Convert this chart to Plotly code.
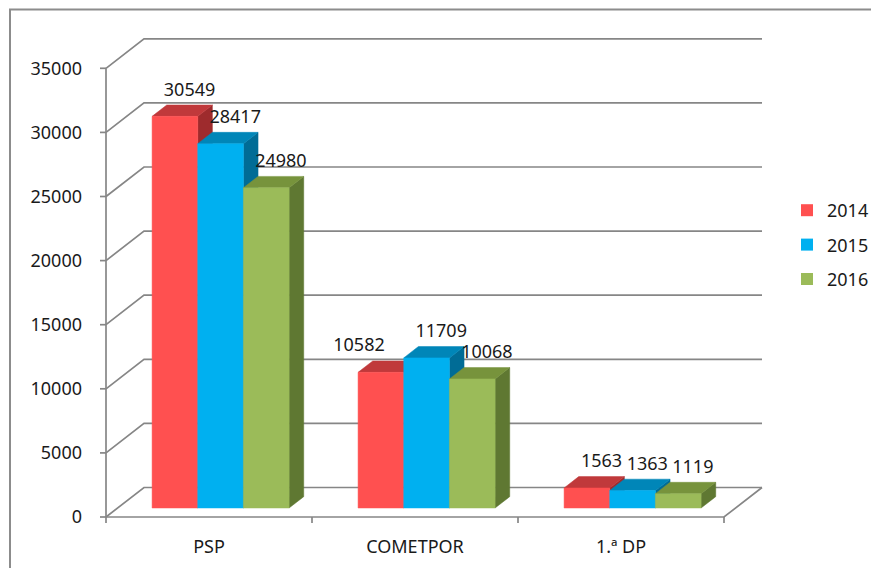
import plotly.graph_objects as go

# ---------------- data ----------------
categories = ["PSP", "COMETPOR", "1.ª DP"]
series_names = ["2014", "2015", "2016"]
values_2014 = [30549, 10582, 1563]
values_2015 = [28417, 11709, 1363]
values_2016 = [24980, 10068, 1119]
y_ticks = [0, 5000, 10000, 15000, 20000, 25000, 30000, 35000]

series_values = [values_2014, values_2015, values_2016]
front_colors = ["#FF5050", "#00B0F0", "#9BBB59"]
top_colors = ["#C0393B", "#0086B8", "#77933C"]
side_colors = ["#9E2B2D", "#006C96", "#5F7832"]

# ---------------- geometry (page pixel targets -> data units) ----------------
W_FIG, H_FIG = 879, 568
OFF = 8                        # page body margin offset
PX_CAT = 206.0                 # pixels per category
X0_PX = 106.0                  # page pixel of x = 0 (front axis)
Y0_PX = 517.0                  # page pixel of value 0 on front plane
K = 448.7 / 35000.0            # pixels per value unit

PL, PR, PT, PB = 98, 775, 20, 533   # plot area in page pixels
x_range = [(PL - X0_PX) / PX_CAT, (PR - X0_PX) / PX_CAT]
y_range = [(Y0_PX - PB) / K, (Y0_PX - PT) / K]

DXW = 38.0 / PX_CAT            # depth of the box in x units
DYW = 29.5 / K                 # depth of the box in value units
F1, F2 = 0.305, 0.69           # front / back of bars as fraction of depth
GROUP = 0.665
BW = GROUP / 3.0
ddx = (F2 - F1) * DXW
ddy = (F2 - F1) * DYW

GRID = "#868686"
FONT = "Noto Sans"
FS = 18
TXT = "#1a1a1a"
n_cat = len(categories)

fig = go.Figure()

# ---------------- walls, gridlines, floor ----------------
gx, gy = [], []
for v in y_ticks:
    gx += [0, DXW, n_cat + DXW, None]
    gy += [v, v + DYW, v + DYW, None]
gx += [0, n_cat, n_cat + DXW, None]
gy += [0, 0, DYW, None]
gx += [0, 0, None]
gy += [0, y_ticks[-1], None]
for v in y_ticks:
    gx += [-6.0 / PX_CAT, 0, None]
    gy += [v, v, None]
for i in range(n_cat + 1):
    gx += [i, i, None]
    gy += [0, -6.0 / K, None]
fig.add_trace(go.Scatter(x=gx, y=gy, mode="lines",
                         line=dict(color=GRID, width=1.7),
                         hoverinfo="skip", showlegend=False))

# ---------------- 3D bars ----------------
lab_x, lab_y, lab_t = [], [], []
for i in range(n_cat):
    for j in range(len(series_values)):
        v = series_values[j][i]
        xl = i + 0.5 - GROUP / 2 + j * BW + F1 * DXW
        xr = xl + BW
        yb = F1 * DYW
        yt = v + yb
        fig.add_trace(go.Scatter(
            x=[xr, xr, xr + ddx, xr + ddx, xr], y=[yb, yt, yt + ddy, yb + ddy, yb],
            fill="toself", fillcolor=side_colors[j], mode="lines",
            line=dict(color=side_colors[j], width=0.5),
            hoverinfo="skip", showlegend=False))
        fig.add_trace(go.Scatter(
            x=[xl, xr, xr + ddx, xl + ddx, xl], y=[yt, yt, yt + ddy, yt + ddy, yt],
            fill="toself", fillcolor=top_colors[j], mode="lines",
            line=dict(color=top_colors[j], width=0.5),
            hoverinfo="skip", showlegend=False))
        fig.add_trace(go.Scatter(
            x=[xl, xr, xr, xl, xl], y=[yb, yb, yt, yt, yb],
            fill="toself", fillcolor=front_colors[j], mode="lines",
            line=dict(color=front_colors[j], width=0.5),
            name=series_names[j], text=[str(v)] * 5,
            hovertemplate="%{text}<extra>" + categories[i] + "</extra>",
            showlegend=False))
        cx = (xl + xr) / 2 + ddx
        nxt = series_values[j + 1][i] if j + 1 < len(series_values) else None
        if nxt is not None and nxt > v:
            cx -= 0.8 * BW
        lab_x.append(cx)
        lab_y.append(yt + ddy + 14.0 / K)
        lab_t.append(str(v))

fig.add_trace(go.Scatter(x=lab_x, y=lab_y, text=lab_t, mode="text",
                         textposition="middle center",
                         textfont=dict(family=FONT, size=FS, color=TXT),
                         hoverinfo="skip", showlegend=False))

# ---------------- legend entries ----------------
for j, nm in enumerate(series_names):
    fig.add_trace(go.Scatter(x=[None], y=[None], mode="markers", name=nm,
                             legendgroup=nm,
                             marker=dict(symbol="square", size=12, color=front_colors[j])))

# ---------------- frame ----------------
pw, ph = PR - PL, PB - PT
def px_to_paper_x(p):
    return (p - PL) / pw
def px_to_paper_y(p):
    return (PB - p) / ph

fig.add_shape(type="rect", xref="paper", yref="paper",
              x0=px_to_paper_x(10), x1=px_to_paper_x(900),
              y0=px_to_paper_y(600), y1=px_to_paper_y(9.5),
              line=dict(color="#8c8c8c", width=2), fillcolor="rgba(0,0,0,0)",
              layer="below")

fig.update_layout(
    width=W_FIG, height=H_FIG,
    margin=dict(l=PL - OFF, r=W_FIG - (PR - OFF), t=PT - OFF, b=H_FIG - (PB - OFF),
                autoexpand=False),
    paper_bgcolor="white", plot_bgcolor="white",
    font=dict(family=FONT, size=FS, color=TXT),
    xaxis=dict(range=x_range, showgrid=False, zeroline=False, showline=False,
               tickmode="array", tickvals=[i + 0.5 for i in range(n_cat)],
               ticktext=categories, ticks="", ticklabelstandoff=1,
               tickfont=dict(family=FONT, size=FS, color=TXT), fixedrange=True),
    yaxis=dict(range=y_range, showgrid=False, zeroline=False, showline=False,
               tickmode="array", tickvals=y_ticks,
               ticktext=[str(t) for t in y_ticks], ticks="",
               ticklabelstandoff=15,
               tickfont=dict(family=FONT, size=FS, color=TXT), fixedrange=True),
    legend=dict(x=px_to_paper_x(787), y=px_to_paper_y(192), xanchor="left", yanchor="top",
                font=dict(family=FONT, size=FS, color=TXT),
                tracegroupgap=8, bgcolor="rgba(0,0,0,0)"),
    showlegend=True,
)

fig.write_html("out.html")
